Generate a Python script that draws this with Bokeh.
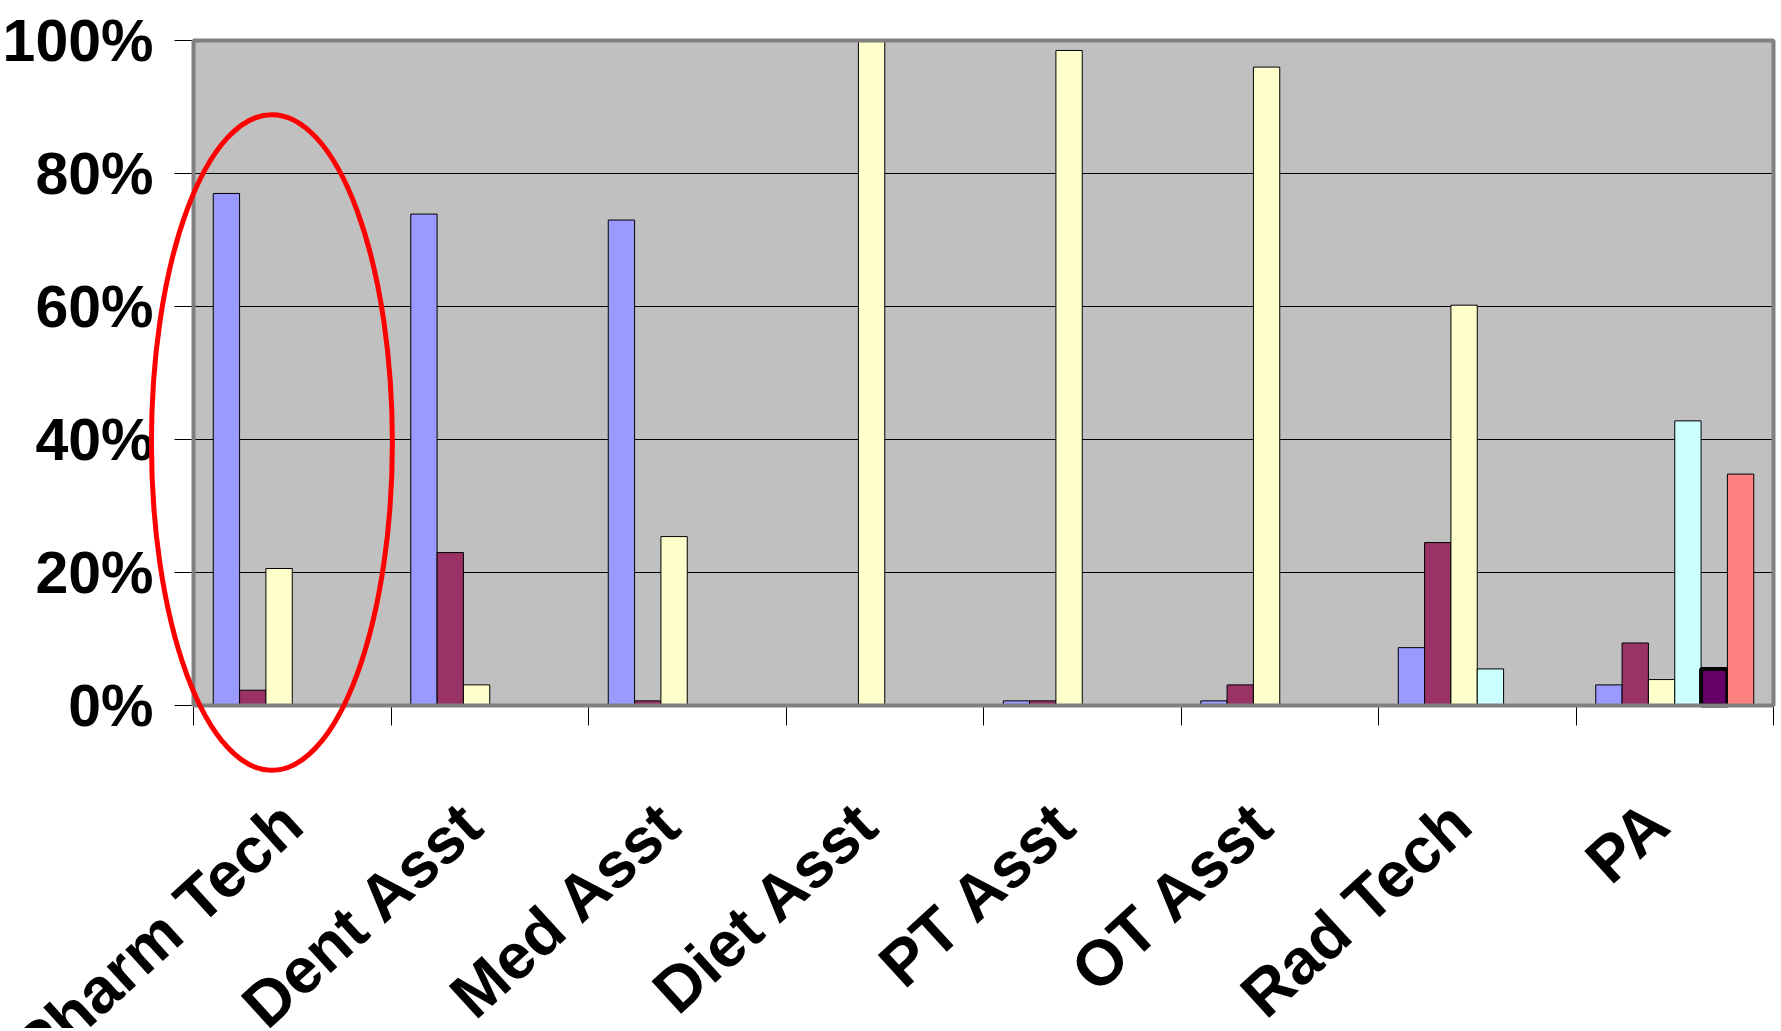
import numpy as np
from bokeh.plotting import figure
from bokeh.models import Range1d, FixedTicker, NumeralTickFormatter, ColumnDataSource, BoxAnnotation
from bokeh.embed import file_html
from bokeh.resources import INLINE

categories = ["Pharm Tech", "Dent Asst", "Med Asst", "Diet Asst", "PT Asst", "OT Asst", "Rad Tech", "PA"]
series1 = [0.77, 0.739, 0.73, 0.0, 0.007, 0.007, 0.087, 0.031]
series2 = [0.023, 0.23, 0.007, 0.0, 0.007, 0.031, 0.245, 0.094]
series3 = [0.206, 0.031, 0.254, 1.0, 0.985, 0.96, 0.602, 0.039]
series4 = [0.0, 0.0, 0.0, 0.0, 0.0, 0.0, 0.055, 0.428]
series5 = [0.0, 0.0, 0.0, 0.0, 0.0, 0.0, 0.0, 0.055]
series6 = [0.0, 0.0, 0.0, 0.0, 0.0, 0.0, 0.0, 0.348]
series = [series1, series2, series3, series4, series5, series6]
colors = ["#9999FF", "#993366", "#FFFFCC", "#CCFFFF", "#660066", "#FF8080"]
y_ticks = [0.0, 0.2, 0.4, 0.6, 0.8, 1.0]

# highlight ellipse around the first category (data units)
ell_cx, ell_cy, ell_w, ell_h = 0.397, 0.3955, 1.22, 0.986

# geometry (pixels): plot area inside a frame that covers the whole figure
FW, FH = 1778, 1028
cat_px, unit_px = 197.5, 665.0
left_px, top_px = 193.0, 40.0
label_shift = -0.085
ncat = len(categories)
x_range = Range1d(-left_px / cat_px, (FW - left_px) / cat_px)
y_range = Range1d(-(FH - top_px - unit_px) / unit_px, 1 + top_px / unit_px)

p = figure(output_backend="svg", toolbar_location=None,
           frame_width=FW, frame_height=FH,
           min_border_left=0, min_border_top=0, min_border_right=0, min_border_bottom=0,
           x_range=x_range, y_range=y_range)
p.background_fill_color = "white"
p.border_fill_color = "white"
p.outline_line_color = None

bg = BoxAnnotation(left=0, right=ncat, bottom=0, top=1, fill_color="#C0C0C0", fill_alpha=1,
                   line_color=None, level="underlay")
p.center = [bg] + list(p.center)

n = len(series)
group = 0.8
w = group / n
for j, (vals, col) in enumerate(zip(series, colors)):
    xs, tops = [], []
    for i, v in enumerate(vals):
        if v > 0:
            xs.append(i + (1 - group) / 2 + w * (j + 0.5))
            tops.append(v)
    src = ColumnDataSource(dict(x=xs, top=tops))
    p.vbar(x="x", top="top", bottom=0, width=w, source=src,
           fill_color=col, line_color="black",
           line_width=4 if j == 4 else 1)

border = BoxAnnotation(left=0, right=ncat, bottom=0, top=1, fill_alpha=0, fill_color=None,
                       line_color="#808080", line_width=4, line_alpha=1, level="annotation")
p.add_layout(border)

# axes
xa = p.xaxis[0]
xa.fixed_location = 0
xa.bounds = (0, ncat)
xa.ticker = FixedTicker(ticks=[i + 0.5 + label_shift for i in range(ncat)],
                        minor_ticks=list(range(ncat + 1)))
xa.major_label_overrides = {i + 0.5 + label_shift: c for i, c in enumerate(categories)}
xa.major_tick_line_color = None
xa.minor_tick_line_color = "black"
xa.minor_tick_out = 20
xa.minor_tick_in = 0
xa.axis_line_color = "#404040"
xa.major_label_orientation = 0.74
xa.major_label_standoff = 88
xa.major_label_text_font = "Liberation Sans"
xa.major_label_text_font_style = "bold"
xa.major_label_text_font_size = "64px"
xa.major_label_text_color = "black"

ya = p.yaxis[0]
ya.fixed_location = 0
ya.bounds = (0, 1)
ya.ticker = FixedTicker(ticks=y_ticks)
ya.formatter = NumeralTickFormatter(format="0%")
ya.minor_tick_line_color = None
ya.major_tick_out = 19
ya.major_tick_in = 0
ya.major_tick_line_color = "black"
ya.axis_line_color = "#404040"
ya.major_label_standoff = 21
ya.major_label_text_font = "Liberation Sans"
ya.major_label_text_font_style = "bold"
ya.major_label_text_font_size = "59px"
ya.major_label_text_color = "black"

p.xgrid.grid_line_color = None
p.ygrid.ticker = FixedTicker(ticks=y_ticks)
p.ygrid.grid_line_color = "black"
p.ygrid.grid_line_width = 1
if "cross_bounds" in p.ygrid.properties():
    p.ygrid.cross_bounds = (0, ncat)

p.ellipse(x=[ell_cx], y=[ell_cy], width=[ell_w], height=[ell_h],
          fill_color=None, line_color="#FF0000", line_width=5, level="overlay")

open("out.html", "w").write(file_html(p, INLINE))
